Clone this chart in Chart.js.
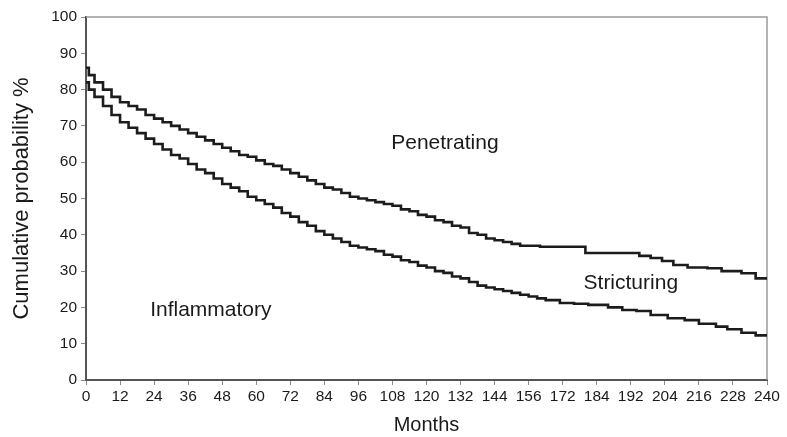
<!DOCTYPE html>
<html>
<head>
<meta charset="utf-8">
<script src="https://cdn.jsdelivr.net/npm/chart.js@4"></script>
<style>
html, body { margin: 0; padding: 0; background: #fff; }
#wrap { width: 787px; height: 437px; position: relative; }
</style>
</head>
<body>
<div id="wrap"><canvas id="kmChart"></canvas></div>
<script>
var xTickLabels = ['0', '12', '24', '36', '48', '60', '72', '84', '96', '108', '120', '132', '144', '156', '172', '184', '192', '204', '216', '228', '240'];

var upperMonths = [0, 1, 3, 6, 9, 12, 15, 18, 21, 24, 27, 30, 33, 36, 39, 42, 45, 48, 51, 54, 57, 60, 63, 66, 69, 72, 75, 78, 81, 84, 87, 90, 93, 96, 99, 102, 105, 108, 111, 114, 117, 120, 123, 126, 129, 132, 135, 138, 141, 144, 147, 150, 153, 156, 160, 176, 195, 199, 203, 207, 212, 219, 224, 231, 236, 240];
var upperValues = [86, 84, 82, 80, 78, 76.5, 75.5, 74.5, 73, 72, 71, 70, 69, 68, 67, 66, 65, 64, 63, 62, 61.5, 60.5, 59.5, 59, 58, 57, 56, 55, 54, 53, 52.5, 51.5, 50.5, 50, 49.5, 49, 48.5, 48, 47, 46.5, 45.5, 45, 44, 43.5, 42.5, 42, 40.5, 40, 39, 38.5, 38, 37.5, 37, 37, 36.7, 35, 34.2, 33.6, 32.8, 31.7, 31, 30.8, 30, 29.4, 28, 28];

var lowerMonths = [0, 1, 3, 6, 9, 12, 15, 18, 21, 24, 27, 30, 33, 36, 39, 42, 45, 48, 51, 54, 57, 60, 63, 66, 69, 72, 75, 78, 81, 84, 87, 90, 93, 96, 99, 102, 105, 108, 111, 114, 117, 120, 123, 126, 129, 132, 135, 138, 141, 144, 147, 150, 153, 156, 159, 162, 167, 172, 177, 184, 189, 194, 199, 205, 211, 216, 222, 226, 231, 236, 240];
var lowerValues = [82, 80, 78, 75.5, 73, 71, 69.5, 68, 66.5, 65, 63.5, 62, 61, 59.5, 58, 57, 55.5, 54, 53, 52, 50.5, 49.5, 48.5, 47.5, 46, 45, 43.5, 42.5, 41, 40, 39, 38, 37, 36.5, 36, 35.5, 34.5, 34, 33, 32.5, 31.5, 31, 30, 29.5, 28.5, 28, 27, 26, 25.5, 25, 24.5, 24, 23.5, 23, 22.5, 22, 21.2, 21, 20.7, 20, 19.3, 19, 17.9, 17, 16.5, 15.5, 14.7, 14, 13, 12.3, 12];

var regionLabels = ['Penetrating', 'Stricturing', 'Inflammatory'];
var regionX = [126.5, 192, 44];
var regionY = [65.3, 26.6, 19.3];

function toPoints(xs, ys) {
    var pts = [];
    for (var i = 0; i < xs.length; i++) {
        pts.push({ x: xs[i], y: ys[i] });
    }
    return pts;
}

var fontFam = '"Liberation Sans", Arial, sans-serif';

// frame + area labels
var extras = {
    id: 'extras',
    beforeDatasetsDraw: function (chart) {
        var ctx = chart.ctx;
        var a = chart.chartArea;
        ctx.save();
        ctx.strokeStyle = '#9a9a9a';
        ctx.lineWidth = 1.5;
        ctx.beginPath();
        ctx.moveTo(a.left, a.top);
        ctx.lineTo(a.right, a.top);
        ctx.lineTo(a.right, a.bottom);
        ctx.stroke();
        ctx.restore();
    },
    afterDatasetsDraw: function (chart) {
        var ctx = chart.ctx;
        var xs = chart.scales.x, ys = chart.scales.y;
        ctx.save();
        ctx.fillStyle = '#1a1a1a';
        ctx.font = '21px ' + fontFam;
        ctx.textAlign = 'center';
        ctx.textBaseline = 'middle';
        for (var i = 0; i < regionLabels.length; i++) {
            ctx.fillText(regionLabels[i], xs.getPixelForValue(regionX[i]), ys.getPixelForValue(regionY[i]));
        }
        ctx.restore();
    }
};

var kmChart = new Chart(document.getElementById('kmChart').getContext('2d'), {
    type: 'line',
    data: {
        datasets: [
            {
                label: 'upper',
                data: toPoints(upperMonths, upperValues),
                borderColor: '#1c1c1c',
                borderWidth: 2.6,
                stepped: true,
                pointRadius: 0,
                fill: false
            },
            {
                label: 'lower',
                data: toPoints(lowerMonths, lowerValues),
                borderColor: '#1c1c1c',
                borderWidth: 2.6,
                stepped: true,
                pointRadius: 0,
                fill: false
            }
        ]
    },
    options: {
        responsive: true,
        maintainAspectRatio: false,
        animation: false,
        layout: {
            padding: { left: 0, right: 20, top: 17, bottom: 0 }
        },
        scales: {
            x: {
                type: 'linear',
                min: 0,
                max: 240,
                afterFit: function (scale) { scale.height = 57; },
                afterBuildTicks: function (scale) {
                    var t = [];
                    for (var i = 0; i < xTickLabels.length; i++) t.push({ value: i * 12 });
                    scale.ticks = t;
                },
                ticks: {
                    color: '#1a1a1a',
                    font: { family: fontFam, size: 15.5 },
                    maxRotation: 0,
                    autoSkip: false,
                    padding: 2,
                    callback: function (value, index) { return xTickLabels[index]; }
                },
                grid: {
                    drawOnChartArea: false,
                    drawTicks: true,
                    tickLength: 5,
                    color: '#8a8a8a'
                },
                border: { color: '#555', width: 2 },
                title: {
                    display: true,
                    text: 'Months',
                    color: '#1a1a1a',
                    font: { family: fontFam, size: 20 },
                    padding: { top: 0, bottom: 0 }
                }
            },
            y: {
                min: 0,
                max: 100,
                afterFit: function (scale) { scale.width = 86; },
                ticks: {
                    stepSize: 10,
                    color: '#1a1a1a',
                    font: { family: fontFam, size: 15.5 },
                    padding: 4
                },
                grid: {
                    drawOnChartArea: false,
                    drawTicks: true,
                    tickLength: 5,
                    color: '#8a8a8a'
                },
                border: { color: '#555', width: 2 },
                title: {
                    display: true,
                    text: 'Cumulative probability %',
                    color: '#1a1a1a',
                    font: { family: fontFam, size: 22 },
                    padding: { top: 9, bottom: 0 }
                }
            }
        },
        plugins: {
            legend: { display: false },
            tooltip: { enabled: false }
        }
    },
    plugins: [extras]
});
</script>
</body>
</html>
